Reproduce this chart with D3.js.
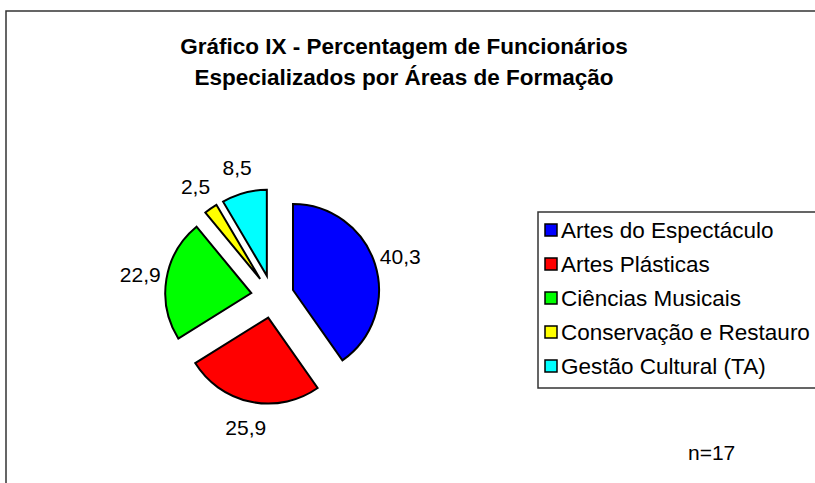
<!DOCTYPE html>
<html>
<head>
<meta charset="utf-8">
<script src="https://cdn.jsdelivr.net/npm/d3@7"></script>
<style>
  body { margin: 0; background: #fff; }
  text { font-family: Arial, "Liberation Sans", sans-serif; }
</style>
</head>
<body>
<div id="chart"></div>
<script>
// data
var categories = ["Artes do Espectáculo", "Artes Plásticas", "Ciências Musicais", "Conservação e Restauro", "Gestão Cultural (TA)"];
var values = [40.3, 25.9, 22.9, 2.5, 8.5];
var valueLabels = ["40,3", "25,9", "22,9", "2,5", "8,5"];
var colors = ["#0000ff", "#ff0000", "#00ff00", "#ffff00", "#00ffff"];
var titleLines = ["Gráfico IX - Percentagem de Funcionários", "Especializados por Áreas de Formação"];
var note = "n=17";

var width = 815, height = 483;
var cx = 272.5, cy = 296.5, radius = 86, explode = 21.5, labelRadius = 134;

var svg = d3.select('#chart')
  .append('svg')
  .attr('width', width)
  .attr('height', height);

// outer frame (runs off the right and bottom edges)
svg.append('rect')
  .attr('x', 6)
  .attr('y', 11)
  .attr('width', width + 10)
  .attr('height', height + 10)
  .style('fill', 'none')
  .style('stroke', '#333')
  .style('stroke-width', 1.5);

// title
svg.append('g')
  .selectAll('text')
  .data(titleLines)
  .join('text')
  .attr('x', 404)
  .attr('y', (d, i) => 54 + i * 31)
  .attr('text-anchor', 'middle')
  .style('font-weight', 'bold')
  .style('font-size', '22.5px')
  .text(d => d);

var pie = d3.pie().sort(null).value(d => d);
var arcs = pie(values);

var arc = d3.arc().innerRadius(0).outerRadius(radius);
var labelArc = d3.arc().innerRadius(labelRadius).outerRadius(labelRadius);

var g = svg.append('g')
  .attr('transform', `translate(${cx},${cy})`);

// exploded slices
g.selectAll('path')
  .data(arcs)
  .join('path')
  .attr('transform', function (d) {
    var mid = (d.startAngle + d.endAngle) / 2;
    return `translate(${Math.sin(mid) * explode},${-Math.cos(mid) * explode})`;
  })
  .attr('d', arc)
  .style('fill', (d, i) => colors[i])
  .style('stroke', '#000')
  .style('stroke-width', 2)
  .style('stroke-linejoin', 'miter');

// value labels
g.selectAll('text')
  .data(arcs)
  .join('text')
  .attr('transform', d => `translate(${labelArc.centroid(d)})`)
  .attr('text-anchor', 'middle')
  .attr('dominant-baseline', 'central')
  .style('font-size', '21px')
  .text((d, i) => valueLabels[i]);

// legend
var legend = svg.append('g')
  .attr('transform', 'translate(538,212)');

legend.append('rect')
  .attr('width', 300)
  .attr('height', 176)
  .style('fill', '#fff')
  .style('stroke', '#333')
  .style('stroke-width', 1.5);

var rows = legend.selectAll('g.row')
  .data(categories)
  .join('g')
  .attr('class', 'row')
  .attr('transform', (d, i) => `translate(0,${18 + i * 34})`);

rows.append('rect')
  .attr('x', 7)
  .attr('y', -6)
  .attr('width', 12)
  .attr('height', 12)
  .style('fill', (d, i) => colors[i])
  .style('stroke', '#000')
  .style('stroke-width', 1.5);

rows.append('text')
  .attr('x', 23)
  .attr('dominant-baseline', 'central')
  .style('font-size', '22.5px')
  .text(d => d);

svg.append('text')
  .attr('x', 688)
  .attr('y', 452)
  .attr('dominant-baseline', 'central')
  .style('font-size', '21px')
  .text(note);
</script>
</body>
</html>
